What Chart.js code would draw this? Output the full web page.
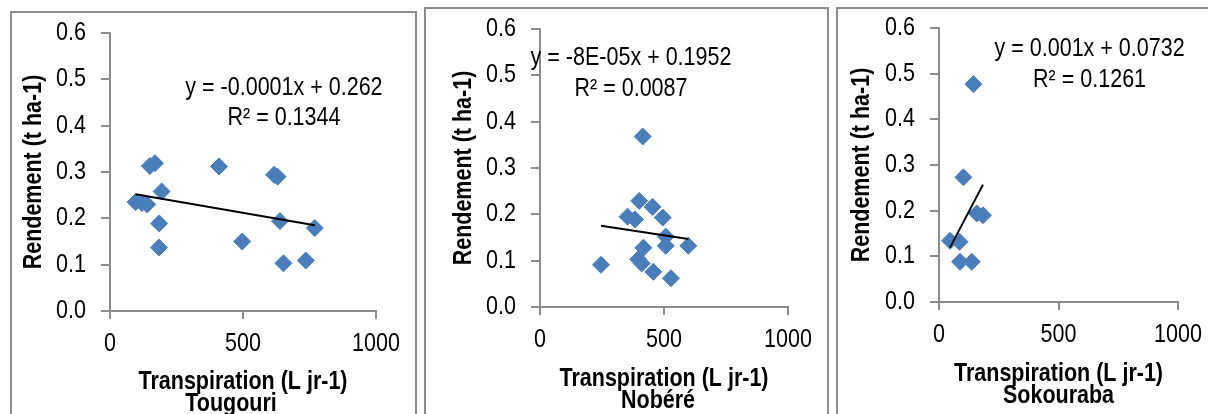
<!DOCTYPE html>
<html lang="fr">
<head>
<meta charset="utf-8">
<title>Rendement vs transpiration</title>
<script src="https://cdn.jsdelivr.net/npm/chart.js@4.4.1/dist/chart.umd.min.js"></script>
<style>
  html, body { margin:0; padding:0; background:#fff; width:1208px; height:414px; overflow:hidden; }
  .panneau { position:absolute; border:2px solid #8c8c8c; background:#fff; overflow:hidden; }
  .panneau canvas { display:block; }
</style>
</head>
<body>
<div class="panneau" style="left:10px;top:11px;width:403px;height:420px"><canvas id="c1" width="403" height="420"></canvas></div>
<div class="panneau" style="left:424px;top:7px;width:401px;height:420px"><canvas id="c2" width="401" height="420"></canvas></div>
<div class="panneau" style="left:836px;top:7px;width:380px;height:420px"><canvas id="c3" width="380" height="420"></canvas></div>
<script>
// valeurs (Transpiration en L/jr, Rendement en t/ha)
const tougouriX = [150, 169, 410, 617, 630, 194, 96, 120, 140, 185, 184, 497, 639, 770, 652, 736];
const tougouriY = [0.313, 0.319, 0.312, 0.294, 0.290, 0.258, 0.235, 0.233, 0.230, 0.189, 0.137, 0.150, 0.194, 0.179, 0.103, 0.109];
const tougouriTrendX = [96, 770];
const tougouriTrendY = [0.252, 0.185];

const nobereX = [414, 400, 454, 495, 353, 383, 507, 507, 598, 417, 246, 396, 410, 457, 528];
const nobereY = [0.368, 0.229, 0.216, 0.193, 0.195, 0.189, 0.152, 0.132, 0.132, 0.128, 0.091, 0.103, 0.094, 0.076, 0.062];
const nobereTrendX = [246, 598];
const nobereTrendY = [0.1755, 0.147];

const sokoX = [144, 102, 158, 184, 46, 86, 88, 137];
const sokoY = [0.477, 0.273, 0.194, 0.190, 0.134, 0.132, 0.088, 0.088];
const sokoTrendX = [46, 184];
const sokoTrendY = [0.119, 0.257];

const sites = ['Tougouri', 'Nobéré', 'Sokouraba'];
const equations = ['y = -0.0001x + 0.262', 'y = -8E-05x + 0.1952', 'y = 0.001x + 0.0732'];
const r2 = ['R² = 0.1344', 'R² = 0.0087', 'R² = 0.1261'];

const titreX = 'Transpiration (L jr-1)';
const titreY = 'Rendement (t ha-1)';

const GRIS = '#8c8c8c';
const BLEU = '#4A7EBB';
const POLICE = '"Liberation Sans", Arial, sans-serif';
const TAILLE = 25;
const ETROIT = 0.86; // le texte de la figure est etroit (genre Arial Narrow)

Chart.defaults.font.family = POLICE;
Chart.defaults.font.size = TAILLE;
Chart.defaults.color = '#000';

// tout le texte du canvas est ecrit un peu compresse en largeur
function condenser(ctx) {
  const orig = ctx.fillText.bind(ctx);
  ctx.fillText = function(t, x, y, maxW) {
    this.save();
    this.translate(x, y);
    this.scale(ETROIT, 1);
    if (maxW === undefined) orig(t, 0, 0); else orig(t, 0, 0, maxW / ETROIT);
    this.restore();
  };
}

function pts(xs, ys) { return xs.map((x, i) => ({x: x, y: ys[i]})); }

// ecrit l'equation de la tendance au-dessus du nuage
const etiquettes = {
  id: 'etiquettes',
  afterDraw(chart, args, o) {
    const ctx = chart.ctx, sx = chart.scales.x, sy = chart.scales.y;
    ctx.save();
    ctx.font = TAILLE + 'px ' + POLICE;
    ctx.fillStyle = '#000';
    ctx.textAlign = 'center';
    ctx.textBaseline = 'middle';
    ctx.fillText(o.eq, sx.getPixelForValue(o.x), sy.getPixelForValue(o.yEq));
    ctx.fillText(o.r2, sx.getPixelForValue(o.x), sy.getPixelForValue(o.yR2));
    ctx.restore();
  }
};

function creerPanneau(id, c) {
  const canvas = document.getElementById(id);
  const W = canvas.width, H = canvas.height;
  condenser(canvas.getContext('2d'));
  new Chart(canvas, {
    type: 'scatter',
    data: {
      datasets: [
        { data: pts(c.trendX, c.trendY), showLine: true, borderColor: '#000', borderWidth: 2,
          pointRadius: 0, order: 0 },
        { data: pts(c.xs, c.ys), pointStyle: 'rectRot', pointRadius: 8.5, backgroundColor: BLEU,
          borderColor: BLEU, borderWidth: 1, order: 1 }
      ]
    },
    options: {
      responsive: false,
      animation: false,
      events: [],
      layout: { padding: { left: 0, top: c.top, right: W - c.right, bottom: 0 } },
      plugins: {
        legend: { display: false },
        tooltip: { enabled: false },
        etiquettes: { eq: c.eq, r2: c.r2, x: c.eqX, yEq: c.eqY, yR2: c.r2Y }
      },
      scales: {
        x: {
          type: 'linear', min: 0, max: 1000,
          afterFit: s => { s.height = H - c.bottom; s.paddingLeft = 0; s.paddingRight = 0; },
          ticks: { stepSize: 500, padding: 10, font: { size: TAILLE, lineHeight: 1.2 }, callback: v => String(v) },
          grid: { drawOnChartArea: false, drawTicks: true, tickLength: 8, color: GRIS, lineWidth: 2 },
          border: { display: true, color: GRIS, width: 2 },
          title: { display: true, text: [titreX, c.site], font: { size: TAILLE, weight: 'bold', lineHeight: '22px' },
                   padding: { top: 0, bottom: c.titrePadX } }
        },
        y: {
          type: 'linear', min: 0, max: 0.6,
          afterFit: s => { s.width = c.left; s.paddingTop = 0; s.paddingBottom = 0; },
          ticks: { stepSize: 0.1, padding: 15, callback: v => v.toFixed(1) },
          grid: { drawOnChartArea: false, drawTicks: true, tickLength: 9, color: GRIS, lineWidth: 2 },
          border: { display: true, color: GRIS, width: 2 },
          title: { display: true, text: titreY, font: { size: TAILLE, weight: 'bold', lineHeight: '22px' },
                   padding: { top: c.titrePadY, bottom: 0 } }
        }
      }
    },
    plugins: [etiquettes]
  });
}

creerPanneau('c1', { xs: tougouriX, ys: tougouriY, trendX: tougouriTrendX, trendY: tougouriTrendY,
  site: sites[0] + '    ', eq: equations[0], r2: r2[0], eqX: 654, eqY: 0.482, r2Y: 0.417,
  left: 98, right: 364, top: 20, bottom: 298, titrePadX: 18, titrePadY: 11 });
creerPanneau('c2', { xs: nobereX, ys: nobereY, trendX: nobereTrendX, trendY: nobereTrendY,
  site: sites[1] + '  ', eq: equations[1], r2: r2[1], eqX: 367, eqY: 0.537, r2Y: 0.4705,
  left: 114, right: 362, top: 20, bottom: 298, titrePadX: 17, titrePadY: 27 });
creerPanneau('c3', { xs: sokoX, ys: sokoY, trendX: sokoTrendX, trendY: sokoTrendY,
  site: sites[2], eq: equations[2], r2: r2[2], eqX: 630, eqY: 0.554, r2Y: 0.486,
  left: 101, right: 340, top: 19, bottom: 293, titrePadX: 22, titrePadY: 13 });
</script>
</body>
</html>
